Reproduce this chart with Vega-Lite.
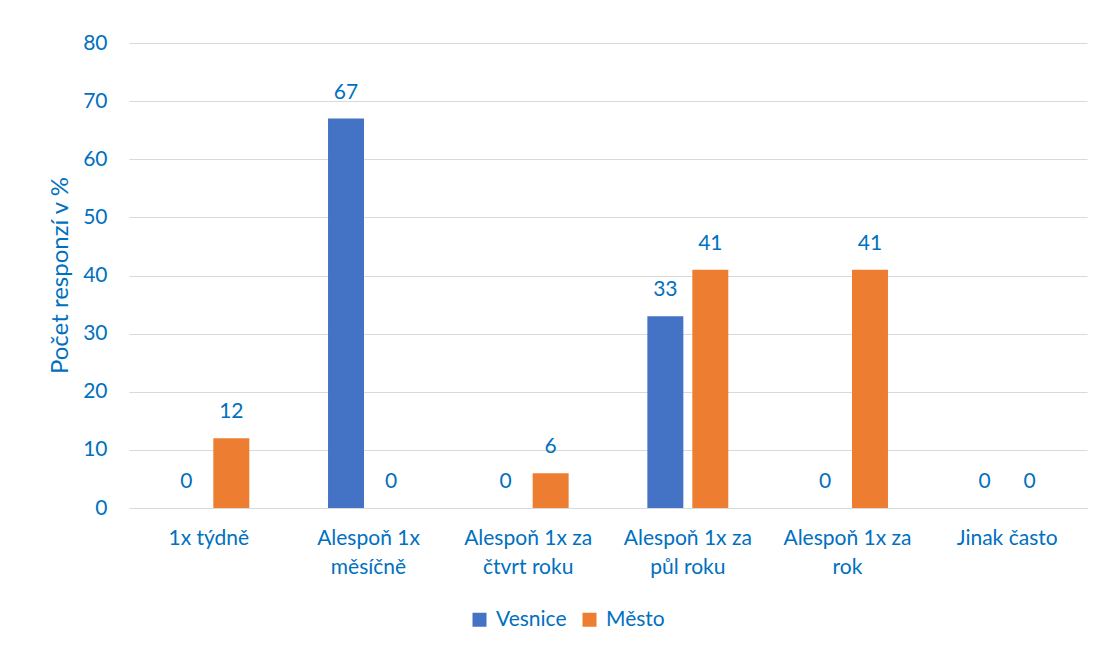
{
  "$schema": "https://vega.github.io/schema/vega-lite/v6.json",
  "autosize": "none",
  "width": 958,
  "height": 465,
  "padding": {"left": 129, "top": 43, "right": 16, "bottom": 144},
  "background": "white",
  "config": {
    "font": "Lato",
    "view": {"stroke": null},
    "axis": {"labelColor": "#0070C0", "titleColor": "#0070C0", "labelFont": "Lato", "titleFont": "Lato"}
  },
  "data": {
    "values": [
      {"kategorie": "1x týdně", "skupina": "Vesnice", "hodnota": 0},
      {"kategorie": "1x týdně", "skupina": "Město", "hodnota": 12},
      {"kategorie": "Alespoň 1x měsíčně", "skupina": "Vesnice", "hodnota": 67},
      {"kategorie": "Alespoň 1x měsíčně", "skupina": "Město", "hodnota": 0},
      {"kategorie": "Alespoň 1x za čtvrt roku", "skupina": "Vesnice", "hodnota": 0},
      {"kategorie": "Alespoň 1x za čtvrt roku", "skupina": "Město", "hodnota": 6},
      {"kategorie": "Alespoň 1x za půl roku", "skupina": "Vesnice", "hodnota": 33},
      {"kategorie": "Alespoň 1x za půl roku", "skupina": "Město", "hodnota": 41},
      {"kategorie": "Alespoň 1x za rok", "skupina": "Vesnice", "hodnota": 0},
      {"kategorie": "Alespoň 1x za rok", "skupina": "Město", "hodnota": 41},
      {"kategorie": "Jinak často", "skupina": "Vesnice", "hodnota": 0},
      {"kategorie": "Jinak často", "skupina": "Město", "hodnota": 0}
    ]
  },
  "encoding": {
    "x": {
      "field": "kategorie",
      "type": "nominal",
      "sort": null,
      "scale": {"paddingInner": 0.493, "paddingOuter": 0.2465},
      "axis": {
        "title": null,
        "labelAngle": 0,
        "labelFontSize": 21,
        "labelPadding": 19,
        "labelLineHeight": 29,
        "labelBaseline": "top",
        "ticks": false,
        "domainColor": "#D9D9D9",
        "domainWidth": 1,
        "labelExpr": "indexof(datum.label,'Alespoň 1x za') == 0 ? ['Alespoň 1x za', substring(datum.label,14)] : indexof(datum.label,'Alespoň 1x ') == 0 ? ['Alespoň 1x', substring(datum.label,11)] : datum.label"
      }
    },
    "xOffset": {
      "field": "skupina",
      "type": "nominal",
      "sort": ["Vesnice", "Město"],
      "scale": {"paddingInner": 0.2, "paddingOuter": 0}
    },
    "y": {
      "field": "hodnota",
      "type": "quantitative",
      "scale": {"domain": [0, 80]},
      "axis": {
        "title": "Počet responzí v %",
        "titleFontSize": 24,
        "titleFontWeight": "normal",
        "titleX": -69,
        "titleY": 232,
        "titleBaseline": "middle",
        "values": [0, 10, 20, 30, 40, 50, 60, 70, 80],
        "labelFontSize": 21,
        "labelPadding": 22,
        "ticks": false,
        "domain": false,
        "gridColor": "#D9D9D9",
        "gridWidth": 1
      }
    }
  },
  "layer": [
    {
      "mark": {"type": "bar"},
      "encoding": {
        "color": {
          "field": "skupina",
          "type": "nominal",
          "sort": ["Vesnice", "Město"],
          "scale": {"domain": ["Vesnice", "Město"], "range": ["#4472C4", "#ED7D31"]},
          "legend": {
            "title": null,
            "orient": "none",
            "direction": "horizontal",
            "legendX": 340,
            "legendY": 566,
            "symbolType": "square",
            "symbolSize": 196,
            "symbolStrokeWidth": 0,
            "labelFontSize": 21,
            "labelColor": "#0070C0",
            "labelFont": "Lato",
            "columnPadding": 12,
            "labelOffset": 6
          }
        }
      }
    },
    {
      "mark": {"type": "text", "baseline": "middle", "dy": -26, "fontSize": 21, "color": "#0070C0", "font": "Lato"},
      "encoding": {
        "text": {"field": "hodnota", "type": "quantitative"}
      }
    }
  ]
}
